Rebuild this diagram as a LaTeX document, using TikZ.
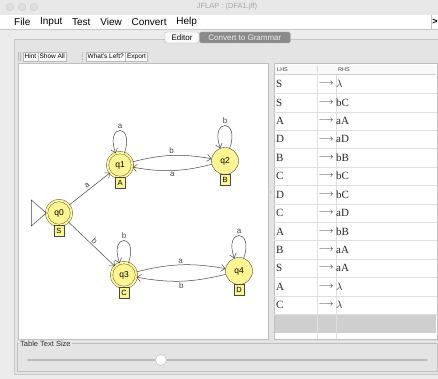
\documentclass[tikz,border=0pt]{standalone}
\usepackage{fontspec}
\setmainfont{Liberation Serif}
\setsansfont{Liberation Sans}
\usepackage{amsmath,amssymb}
\usetikzlibrary{calc,arrows.meta,positioning,shapes}
\definecolor{winbg}{RGB}{236,236,236}
\definecolor{titlebg}{RGB}{232,232,232}
\definecolor{panelbg}{RGB}{228,228,228}
\definecolor{stateyellow}{RGB}{252,245,145}
\definecolor{edgegray}{RGB}{70,70,70}
\definecolor{tabdark}{RGB}{138,138,138}
\newcommand{\lam}{$\lambda$}

\begin{document}
\begin{tikzpicture}[x=1pt,y=1pt]
            \tikzstyle{state}=[circle, draw=edgegray, fill=stateyellow, minimum size=27pt, inner sep=0pt, font=\sffamily\fontsize{8.5}{9}\selectfont]
            \tikzstyle{accept}=[double=stateyellow, double distance=2pt, minimum size=25pt]
            \tikzstyle{tag}=[draw=edgegray, fill=stateyellow, inner sep=0pt, minimum width=10pt, minimum height=11pt, font=\sffamily\fontsize{7.5}{8}\selectfont]
            \tikzstyle{trans}=[draw=edgegray, line width=0.5pt, -{Straight Barb[length=4pt,width=7pt]}]
            \tikzstyle{sym}=[font=\sffamily\fontsize{8}{9}\selectfont, text=edgegray, inner sep=1.5pt]
            \tikzstyle{menu}=[font=\sffamily\fontsize{10}{12}\selectfont, inner sep=0pt]
            \tikzstyle{tbtn}=[draw=gray!55, fill=gray!4, font=\sffamily\fontsize{6.5}{7}\selectfont, inner sep=1.5pt, minimum height=9pt]
            \tikzstyle{hdr}=[font=\sffamily\fontsize{5.5}{6}\selectfont, inner sep=0pt, text=black!75]
            \tikzstyle{cell}=[font=\fontsize{11}{12}\selectfont, inner sep=0pt, text=black!85]

            %%%%%%%%%%%%%%%%%%%%%%%%%%%%%%%%%%%%%%%%
            \useasboundingbox (0,0) rectangle (438,379);
            \fill[winbg] (0,0) rectangle (438,379);
            \fill[titlebg] (0,364) rectangle (438,379);
            \filldraw[fill=gray!25, draw=gray!40] (10,372) circle (3.8) (22,372) circle (3.8) (34,372) circle (3.8);
            \node[font=\sffamily\fontsize{7.5}{8}\selectfont, text=gray!70] (title) at (227,372) {JFLAP : (DFA1.jff)};

            \fill[white] (0,350) rectangle (438,364);
            \draw[gray!45] (0,350) -- (438,350);
            \node[menu, anchor=west] (mfile) at (14,357) {File};
            \node[menu, right=9.4pt of mfile] (minput) {Input};
            \node[menu, right=9.4pt of minput] (mtest) {Test};
            \node[menu, right=9.4pt of mtest] (mview) {View};
            \node[menu, right=9.4pt of mview] (mconvert) {Convert};
            \node[menu, right=9.4pt of mconvert] (mhelp) {Help};
            \draw[gray!45] (431,350) -- (431,364);
            \node[font=\sffamily\bfseries\fontsize{9}{10}\selectfont, inner sep=0pt] (mmore) at (435,357) {>};

            %%%%%%%%%%%%%%%%%%%%%%%%%%%%%%%%%%%%%%%%
            \fill[panelbg] (14,5) rectangle (438,340);
            \draw[gray!45] (438,340) -- (14,340) -- (14,5) -- (438,5);
            \node[draw=gray!55, fill=gray!4, rounded corners=1.5pt, minimum width=34pt, minimum height=11pt, inner sep=0pt, font=\sffamily\fontsize{8}{9}\selectfont] (editor) at (182,341.5) {Editor};
            \node[draw=gray!60, fill=tabdark, text=gray!15, rounded corners=1.5pt, minimum width=91pt, minimum height=11pt, inner sep=0pt, font=\sffamily\fontsize{8}{9}\selectfont, right=0pt of editor] (togrammar) {Convert to Grammar};

            \draw[gray!55] (18,318) -- (18,327) (20,318) -- (20,327);
            \node[tbtn, anchor=west] (hint) at (23,322.5) {Hint};
            \node[tbtn, right=0pt of hint] (showall) {Show All};
            \draw[gray!55, densely dotted] (82,318) -- (82,327);
            \node[tbtn, anchor=west] (whatsleft) at (86,322.5) {What's Left?};
            \node[tbtn, right=0pt of whatsleft] (export) {Export};

            %%%%%%%%%%%%%%%%%%%%%%%%%%%%%%%%%%%%%%%%
            \draw[gray!50, fill=white] (18,40) rectangle (268,316);

            \node[state, accept] (q0) at (59,166) {q0};
            \node[state, accept] (q1) at (120,214) {q1};
            \node[state] (q2) at (225,218) {q2};
            \node[state, accept] (q3) at (124,104) {q3};
            \node[state] (q4) at (239,108) {q4};
            \node[tag, below=-0.5pt of q0] (t0) {S};
            \node[tag, below=-0.5pt of q1] (t1) {A};
            \node[tag, below=-0.5pt of q2] (t2) {B};
            \node[tag, below=-0.5pt of q3] (t3) {C};
            \node[tag, below=-0.5pt of q4] (t4) {D};

            \draw[edgegray, line width=0.5pt] (q0.west) -- ++(-15,13) -- ++(0,-26) -- cycle;

            \draw[trans] (q0) -- node[sym, sloped, above] {a} (q1);
            \draw[trans] (q0) -- node[sym, sloped, above] {b} (q3);
            \draw[trans] (q1) to[bend left=12] node[sym, above] {b} (q2);
            \draw[trans] (q2) to[bend left=12] node[sym, below] {a} (q1);
            \draw[trans] (q3) to[bend left=12] node[sym, above] {a} (q4);
            \draw[trans] (q4) to[bend left=12] node[sym, below] {b} (q3);
            \draw[trans] (q1.70) .. controls +(70:32) and +(110:32) .. node[sym, above] {a} (q1.110);
            \draw[trans] (q2.70) .. controls +(70:32) and +(110:32) .. node[sym, above] {b} (q2.110);
            \draw[trans] (q3.70) .. controls +(70:32) and +(110:32) .. node[sym, above] {b} (q3.110);
            \draw[trans] (q4.70) .. controls +(70:32) and +(110:32) .. node[sym, above] {a} (q4.110);

            %%%%%%%%%%%%%%%%%%%%%%%%%%%%%%%%%%%%%%%%
            \fill[gray!45] (271,187) circle (0.8);
            \draw[gray!50, fill=white] (274,40) rectangle (437,316);
            \fill[gray!5] (275,304.4) rectangle (436,314);
            \draw[gray!35] (275,304.4) -- (436,304.4);
            \draw[gray!30] (317.5,306) -- (317.5,312.5);
            \node[hdr, anchor=west] (lhs) at (277,309) {LHS};
            \node[hdr, anchor=west] (rhs) at (338,309) {RHS};
            \fill[gray!38] (275,46.4) rectangle (436,64.8);
            \draw[gray!25] (317,40) -- (317,304.4) (336,40) -- (336,304.4);
            \foreach \l/\r [count=\k from 0] in {S/\lam, S/bC, A/aA, D/aD, B/bB, C/bC, D/bC, C/aD, A/bB, B/aA, S/aA, A/\lam, C/\lam}{
                \pgfmathsetmacro{\ry}{294.8-18.4*\k}
                \node[cell, anchor=west] (lhs\k) at (276,\ry) {\l};
                \node[cell, anchor=west, font=\fontsize{9}{10}\selectfont] (arr\k) at (318.5,\ry) {$\longrightarrow$};
                \node[cell, anchor=west] (rhs\k) at (336,\ry) {\r};
                \draw[gray!25] (274,\ry-9.2) -- (437,\ry-9.2);
            }

            %%%%%%%%%%%%%%%%%%%%%%%%%%%%%%%%%%%%%%%%
            \draw[gray!50] (17,8) rectangle (437,36);
            \node[font=\sffamily\fontsize{7.5}{8}\selectfont, fill=panelbg, inner sep=1pt, anchor=west, text=black!80] (tablesize) at (19,35) {Table Text Size};
            \draw[gray!55, line width=1.8pt, line cap=round] (28,19) -- (427,19);
            \node[circle, draw=gray!55, fill=white, minimum size=11pt, inner sep=0pt] (knob) at (161,19) {};
        \end{tikzpicture}
\end{document}
